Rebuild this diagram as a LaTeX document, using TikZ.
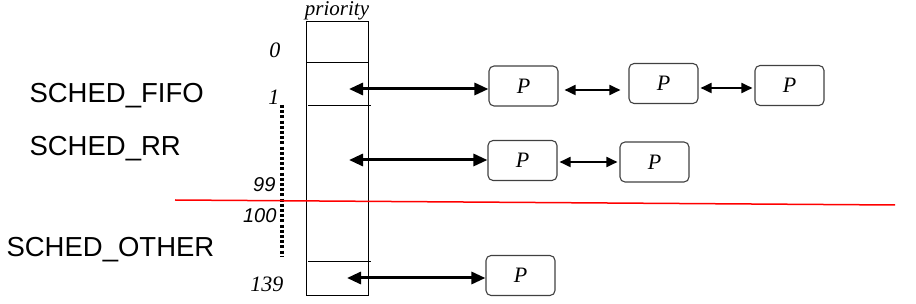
\documentclass[tikz,border=0pt]{standalone}
\usepackage{fontspec}
\setmainfont{Liberation Serif}
\newfontfamily\arialf{Liberation Sans}
\usetikzlibrary{positioning,arrows.meta}
\tikzset{
  proc/.style={draw=black!75, line width=1.1pt, rounded corners=5pt, minimum width=69pt, minimum height=40pt, font=\fontsize{22}{22}\selectfont\itshape},
  bigarr/.style={line width=3pt, {Triangle[length=14pt,width=12pt]}-{Triangle[length=14pt,width=12pt]}},
  smallarr/.style={line width=1.8pt, {Triangle[length=11pt,width=10pt]}-{Triangle[length=11pt,width=10pt]}, shorten >=2pt, shorten <=2pt},
  policy/.style={anchor=west, font=\arialf\fontsize{27.5}{27.5}\selectfont},
  prio/.style={anchor=east, font=\fontsize{22}{22}\selectfont\itshape},
  sprio/.style={anchor=east, font=\arialf\fontsize{20}{20}\selectfont\itshape},
}
\begin{document}
\begin{tikzpicture}[x=1pt,y=-1pt]
\useasboundingbox (0,0) rectangle (916,304);
\node[draw, line width=0.8pt, minimum width=62pt, minimum height=274pt, inner sep=0pt] (arr) at (337,158) {};
\node[font=\fontsize{21}{21}\selectfont\itshape, above=-3pt of arr] (lbl) {priority};
\draw[line width=0.8pt] (306,62) -- (368,62);
\draw[line width=0.8pt] (308,105) -- (371,105);
\draw[line width=0.8pt] (308,261) -- (371,261);
\node[prio] (n0) at (284,50) {0};
\node[prio] (n1) at (283,97) {1};
\node[sprio] (n99) at (279,185) {99};
\node[sprio] (n100) at (280,216) {100};
\node[prio] (n139) at (287,284) {139};
\draw[line width=4.5pt, dash pattern=on 3pt off 2.2pt] (282,105) -- (282,257);
\node[policy] (fifo) at (26,96) {SCHED\_FIFO};
\node[policy] (rr) at (26,149) {SCHED\_RR};
\node[policy] (other) at (3,250) {SCHED\_OTHER};
\draw[red, line width=1.5pt] (175,200) -- (895,205);
\node[proc] (p11) at (523.5,86) {P};
\node[proc] (p12) at (663.5,83.5) {P};
\node[proc] (p13) at (789.5,85.5) {P};
\node[proc] (p21) at (522.5,160.5) {P};
\node[proc] (p22) at (654.5,162) {P};
\node[proc] (p31) at (520.5,275.5) {P};
\coordinate (q1) at (349,89);
\coordinate (q2) at (349,160);
\coordinate (q3) at (347,278);
\draw[bigarr] (q1) -- (q1 -| p11.west);
\draw[bigarr] (q2) -- (q2 -| p21.west);
\draw[bigarr] (q3) -- (q3 -| p31.west);
\draw[smallarr, shorten <=6pt, shorten >=8pt] (p11.east |- 0,90) -- (p12.west |- 0,90);
\draw[smallarr] (p12.east |- 0,88) -- (p13.west |- 0,88);
\draw[smallarr] (p21.east |- 0,162) -- (p22.west |- 0,162);
\end{tikzpicture}
\end{document}
